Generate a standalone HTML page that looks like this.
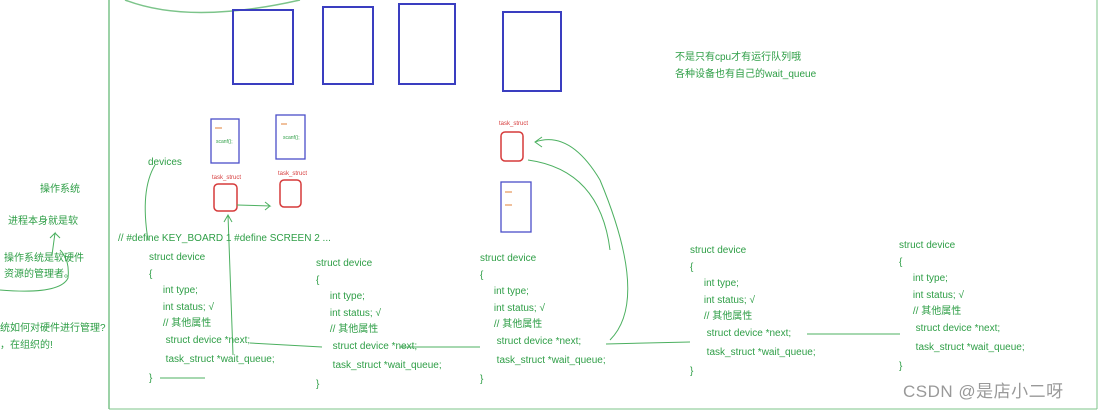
<!DOCTYPE html>
<html><head><meta charset="utf-8"><style>
body{margin:0;width:1100px;height:412px;background:#fff;overflow:hidden;position:relative;font-family:"Liberation Sans","Noto Sans CJK SC",sans-serif;}
.t{position:absolute;color:#2e9e46;font-size:10px;white-space:nowrap;line-height:12px}
svg{position:absolute;left:0;top:0}
</style></head><body>
<svg width="1100" height="412" fill="none">
<line x1="109" y1="0" x2="109" y2="409" stroke="#7cc48a" stroke-width="1.5"/>
<line x1="1097" y1="0" x2="1097" y2="409" stroke="#7cc48a" stroke-width="1"/>
<line x1="109" y1="409" x2="1097" y2="409" stroke="#7cc48a" stroke-width="1"/>
<path d="M125 0 Q190 25 300 0" stroke="#7cc48a" stroke-width="1.5"/>
<g stroke="#3a3ec0" stroke-width="2">
<rect x="233" y="10" width="60" height="74"/><rect x="323" y="7" width="50" height="77"/>
<rect x="399" y="4" width="56" height="80"/><rect x="503" y="12" width="58" height="79"/>
</g>
<g stroke="#4a4ec8" stroke-width="1.3">
<rect x="211" y="119" width="28" height="44"/><rect x="276" y="115" width="29" height="44"/>
<rect x="501" y="182" width="30" height="50"/>
</g>
<g stroke="#d63a3a" stroke-width="1.5">
<rect x="214" y="184" width="23" height="27" rx="4"/><rect x="280" y="180" width="21" height="27" rx="4"/>
<rect x="501" y="132" width="22" height="29" rx="4"/>
</g>
<g stroke="#e0803a" stroke-width="1"><line x1="215" y1="128" x2="222" y2="128"/><line x1="281" y1="124" x2="287" y2="124"/><line x1="505" y1="192" x2="512" y2="192"/><line x1="505" y1="205" x2="512" y2="205"/></g>
<g stroke="#4cb060" stroke-width="1">
<path d="M237 205 L270 206 L265 202 M270 206 L265 210"/>
<path d="M155 165 Q140 190 148 240"/>
<path d="M233 355 L228 215 M224 222 L228 215 L232 222"/>
<path d="M250 343 L322 347"/><path d="M400 347 L480 347"/><path d="M606 344 L690 342"/><path d="M807 334 L900 334"/>
<path d="M610 340 Q650 300 600 180 Q570 130 535 142 M542 137 L535 142 L542 147"/>
<path d="M528 160 Q600 170 610 250"/>
<path d="M0 290 Q60 295 68 278 Q70 260 60 250"/><path d="M52 255 L55 233 L50 238 M55 233 L60 238"/>
<path d="M160 378 L205 378"/>
</g>
</svg>
<div class="t" style="left:675px;top:52px">不是只有cpu才有运行队列哦</div>
<div class="t" style="left:675px;top:69px">各种设备也有自己的wait_queue</div>
<div class="t" style="left:148px;top:157px">devices</div>
<div class="t" style="left:40px;top:184px">操作系统</div>
<div class="t" style="left:8px;top:216px">进程本身就是软</div>
<div class="t" style="left:4px;top:253px">操作系统是软硬件</div>
<div class="t" style="left:4px;top:269px">资源的管理者。</div>
<div class="t" style="left:0px;top:323px">统如何对硬件进行管理?</div>
<div class="t" style="left:0px;top:340px">，在组织的!</div>
<div class="t" style="left:118px;top:233px">// #define KEY_BOARD 1 #define SCREEN 2 ...</div>
<div class="t" style="left:212px;top:172px;color:#d63a3a;font-size:6px">task_struct</div>
<div class="t" style="left:278px;top:168px;color:#d63a3a;font-size:6px">task_struct</div>
<div class="t" style="left:499px;top:118px;color:#d63a3a;font-size:6px">task_struct</div>
<div class="t" style="left:216px;top:136px;font-size:5px">scanf();</div>
<div class="t" style="left:283px;top:132px;font-size:5px">scanf();</div>

<div class="t" style="left:149px;top:250px;line-height:16.5px">struct device<br>{<br>&nbsp;&nbsp;&nbsp;&nbsp;&nbsp;int type;<br>&nbsp;&nbsp;&nbsp;&nbsp;&nbsp;int status; √<br>&nbsp;&nbsp;&nbsp;&nbsp;&nbsp;// 其他属性<br>&nbsp;&nbsp;&nbsp;&nbsp;&nbsp;&nbsp;struct device *next;<br><span style="line-height:22px">&nbsp;&nbsp;&nbsp;&nbsp;&nbsp;&nbsp;task_struct *wait_queue;</span><br>}</div>
<div class="t" style="left:316px;top:256px;line-height:16.5px">struct device<br>{<br>&nbsp;&nbsp;&nbsp;&nbsp;&nbsp;int type;<br>&nbsp;&nbsp;&nbsp;&nbsp;&nbsp;int status; √<br>&nbsp;&nbsp;&nbsp;&nbsp;&nbsp;// 其他属性<br>&nbsp;&nbsp;&nbsp;&nbsp;&nbsp;&nbsp;struct device *next;<br><span style="line-height:22px">&nbsp;&nbsp;&nbsp;&nbsp;&nbsp;&nbsp;task_struct *wait_queue;</span><br>}</div>
<div class="t" style="left:480px;top:251px;line-height:16.5px">struct device<br>{<br>&nbsp;&nbsp;&nbsp;&nbsp;&nbsp;int type;<br>&nbsp;&nbsp;&nbsp;&nbsp;&nbsp;int status; √<br>&nbsp;&nbsp;&nbsp;&nbsp;&nbsp;// 其他属性<br>&nbsp;&nbsp;&nbsp;&nbsp;&nbsp;&nbsp;struct device *next;<br><span style="line-height:22px">&nbsp;&nbsp;&nbsp;&nbsp;&nbsp;&nbsp;task_struct *wait_queue;</span><br>}</div>
<div class="t" style="left:690px;top:243px;line-height:16.5px">struct device<br>{<br>&nbsp;&nbsp;&nbsp;&nbsp;&nbsp;int type;<br>&nbsp;&nbsp;&nbsp;&nbsp;&nbsp;int status; √<br>&nbsp;&nbsp;&nbsp;&nbsp;&nbsp;// 其他属性<br>&nbsp;&nbsp;&nbsp;&nbsp;&nbsp;&nbsp;struct device *next;<br><span style="line-height:22px">&nbsp;&nbsp;&nbsp;&nbsp;&nbsp;&nbsp;task_struct *wait_queue;</span><br>}</div>
<div class="t" style="left:899px;top:238px;line-height:16.5px">struct device<br>{<br>&nbsp;&nbsp;&nbsp;&nbsp;&nbsp;int type;<br>&nbsp;&nbsp;&nbsp;&nbsp;&nbsp;int status; √<br>&nbsp;&nbsp;&nbsp;&nbsp;&nbsp;// 其他属性<br>&nbsp;&nbsp;&nbsp;&nbsp;&nbsp;&nbsp;struct device *next;<br><span style="line-height:22px">&nbsp;&nbsp;&nbsp;&nbsp;&nbsp;&nbsp;task_struct *wait_queue;</span><br>}</div>
<div class="t" style="left:903px;top:382px;color:#999;font-size:17px;line-height:20px;letter-spacing:0.5px">CSDN @是店小二呀</div>
</body></html>
